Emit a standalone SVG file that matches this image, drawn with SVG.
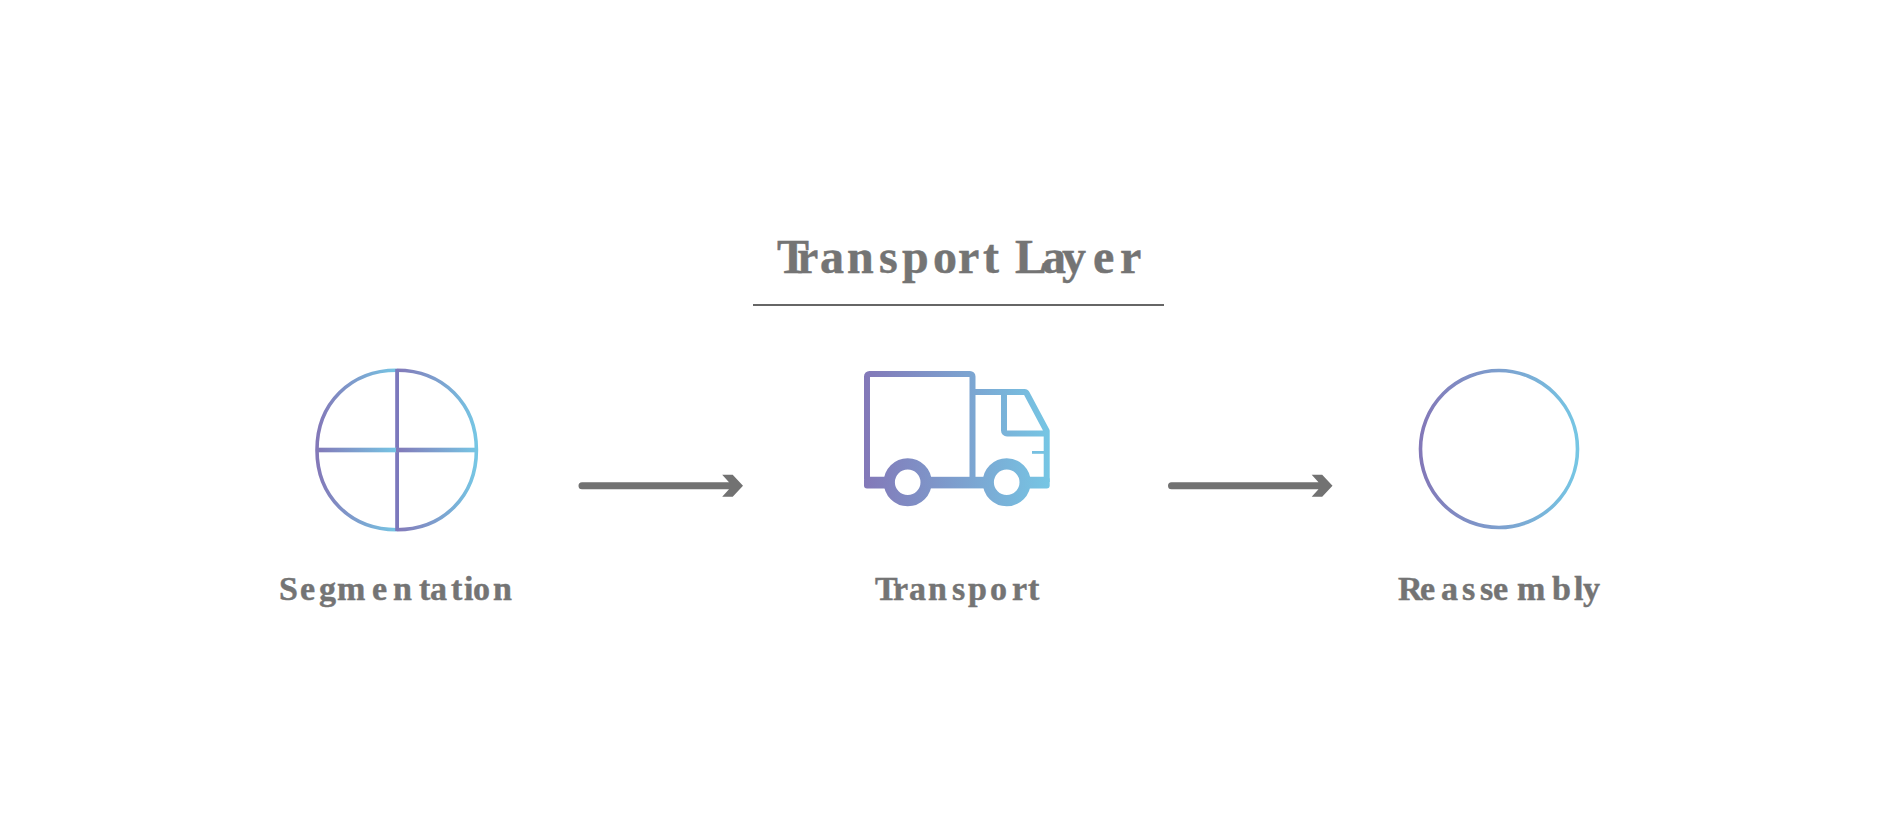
<svg xmlns="http://www.w3.org/2000/svg" width="1881" height="837" viewBox="0 0 1881 837">
<style>
text{font-family:"Liberation Serif","Times New Roman",serif;font-weight:bold;fill:#747474;stroke:#747474;stroke-width:.45}
.label{font-size:34px}
.title{font-size:48px}
.line{fill:none;stroke-width:3.6}
.truck{fill:none;stroke:url(#gt);stroke-width:6;stroke-linejoin:round}
.shaft{fill:#727272}
</style>
<defs>
<linearGradient id="g"><stop offset="0" stop-color="#8378B8"/><stop offset="1" stop-color="#76C6E4"/></linearGradient>
<linearGradient id="gt" gradientUnits="userSpaceOnUse" x1="864" y1="430" x2="1050" y2="430"><stop offset="0" stop-color="#8378B8"/><stop offset="1" stop-color="#76C6E4"/></linearGradient>
<path id="arrow" d="M3 -3.5H150L143.2 -10.9H153.7L164 0L153.7 11.1H143.2L150 3.5H3A3.5 3.5 0 0 1 3 -3.5Z"/>
</defs>
<rect width="1881" height="837" fill="#fff"/>
<g id="title">
<text class="title" y="273" x="777 797 820 847 879 902 933 958 983 1000 1015 1042 1062 1093 1120">Transport Layer</text>
<rect x="753" y="304" width="411" height="2" fill="#666"/>
</g>
<g id="segmentation">
<path class="line" stroke="url(#g)" d="M396.7 370.3C443 370.3 476.4 403.7 476.4 450"/>
<path class="line" stroke="url(#g)" d="M396.7 370.3C350.4 370.3 317 403.7 317 450"/>
<path class="line" stroke="url(#g)" d="M317 450C317 496.3 350.4 529.7 396.7 529.7"/>
<path class="line" stroke="url(#g)" d="M396.7 529.7C443 529.7 476.4 496.3 476.4 450"/>
<rect x="395.2" y="369" width="3.8" height="162" fill="#7C78BC"/>
<rect x="316" y="447.7" width="81" height="4.6" fill="url(#g)"/>
<rect x="396" y="447.7" width="81.5" height="4.6" fill="url(#g)"/>
<text class="label" y="600" x="279 300 319 337 372 393 419 430 451 464 473 493">Segmentation</text>
</g>
<g id="transport">
<path class="truck" d="M867 479V376.5a2.5 2.5 0 0 1 2.5-2.5H970a2.5 2.5 0 0 1 2.5 2.5V479M972.5 392H1024a3 3 0 0 1 3 2L1046.7 431V482M1004 392V430.5a3 3 0 0 0 3 3H1046.7"/>
<rect x="1032" y="451" width="13" height="2.8" fill="url(#gt)"/>
<rect x="864" y="476.8" width="26" height="11.6" rx="3" fill="url(#gt)"/>
<rect x="926" y="476.8" width="62" height="11.6" fill="url(#gt)"/>
<rect x="1025" y="476.8" width="24.7" height="11.6" rx="3" fill="url(#gt)"/>
<circle cx="907.7" cy="482.3" r="18.4" fill="none" stroke="url(#gt)" stroke-width="11.2"/>
<circle cx="1006.7" cy="482.3" r="18.4" fill="none" stroke="url(#gt)" stroke-width="11.2"/>
<text class="label" y="600" x="875 893 909 928 952 968 990 1012 1028">Transport</text>
</g>
<g id="reassembly">
<circle cx="1499" cy="449" r="78.5" fill="none" stroke="url(#g)" stroke-width="3.6"/>
<text class="label" y="600" x="1398 1420 1441 1462 1480 1493 1517 1552 1574 1583">Reassembly</text>
</g>
<g id="connectors">
<use class="shaft" href="#arrow" x="579" y="485.7"/>
<use class="shaft" href="#arrow" x="1168.5" y="485.7"/>
</g>
</svg>
